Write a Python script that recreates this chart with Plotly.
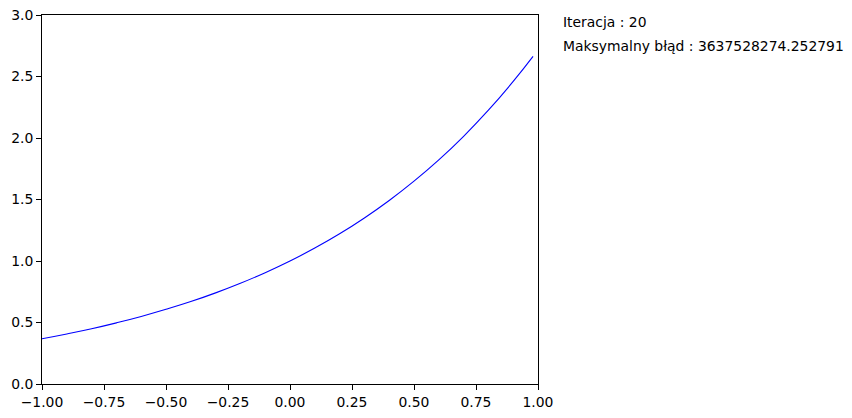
import plotly.graph_objects as go

# values
xs = [-1.0, -0.9, -0.8, -0.7, -0.6, -0.5, -0.4, -0.3, -0.2, -0.1, 0.0,
      0.1, 0.2, 0.3, 0.4, 0.5, 0.6, 0.7, 0.8, 0.9, 0.98]
ys = [0.368, 0.407, 0.449, 0.497, 0.549, 0.607, 0.670, 0.741, 0.819, 0.905, 1.000,
      1.105, 1.221, 1.350, 1.492, 1.649, 1.822, 2.014, 2.226, 2.460, 2.664]

iteracja = 20
max_blad = "3637528274.252791"

fig = go.Figure()
fig.add_trace(go.Scatter(x=xs, y=ys, mode="lines", line_shape="spline",
                         line=dict(color="blue", width=1.1, smoothing=1.3),
                         showlegend=False))

font = dict(family="DejaVu Sans", size=13.9, color="black")
axis_style = dict(showline=True, linecolor="black", linewidth=1, mirror=True,
                  ticks="outside", ticklen=5, tickcolor="black", showgrid=False,
                  zeroline=False, automargin=False, tickfont=font)

fig.update_xaxes(range=[-1, 1], dtick=0.25, tickformat=".2f", **axis_style)
fig.update_yaxes(range=[0, 3], dtick=0.5, tickformat=".1f", **axis_style)

fig.add_annotation(x=1.046, y=0.981, xref="paper", yref="paper", xanchor="left",
                   yanchor="middle", text="Iteracja : %d" % iteracja,
                   showarrow=False, font=font)
fig.add_annotation(x=1.046, y=0.916, xref="paper", yref="paper", xanchor="left",
                   yanchor="middle", text="Maksymalny błąd : " + max_blad,
                   showarrow=False, font=font)

fig.update_layout(width=852, height=418, margin=dict(l=42, r=314, t=15, b=34),
                  plot_bgcolor="white", paper_bgcolor="white")

# drop the default body margin so the figure sits at the page corner
fig.write_html("out.html", config={"displayModeBar": False},
               post_script="document.body.style.margin = '0';")
